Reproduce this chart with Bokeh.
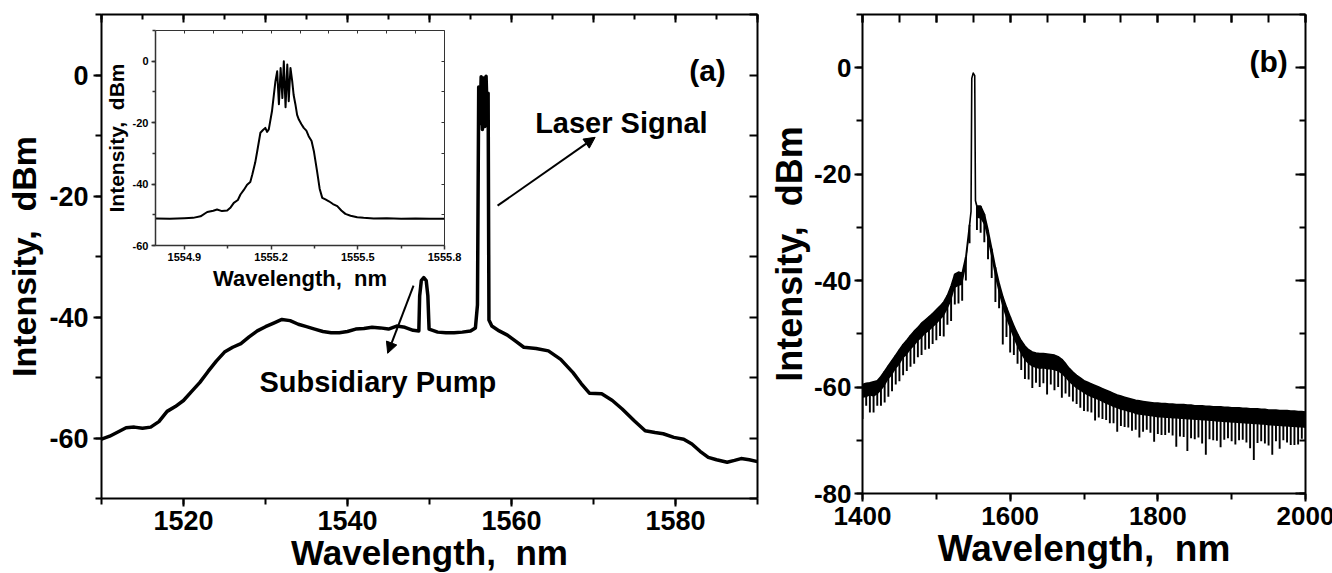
from bokeh.plotting import figure
from bokeh.layouts import row
from bokeh.models import (Range1d, LinearAxis, FixedTicker, SingleIntervalTicker,
                          PrintfTickFormatter, Arrow, NormalHead, Label)
from bokeh.embed import file_html
from bokeh.resources import INLINE

# ---------------- data : panel (a) main spectrum ----------------
a_nm = [1510, 1511, 1512, 1513, 1514, 1515, 1516, 1517, 1518, 1519,
        1520, 1521, 1522, 1523, 1524, 1525, 1526, 1527, 1528, 1529,
        1530, 1531, 1532, 1533, 1534, 1535, 1536, 1537, 1538, 1539,
        1540, 1541, 1542, 1543, 1544, 1545, 1546, 1547, 1548,
        1548.7, 1548.8, 1549.0, 1549.3, 1549.6, 1549.8, 1549.95,
        1551, 1552, 1553, 1554, 1555,
        1555.6, 1555.85, 1556.0, 1556.15, 1556.3, 1556.45, 1556.6, 1556.75,
        1556.9, 1557.05, 1557.15, 1557.25, 1557.6,
        1558.5, 1559.5, 1560.5, 1561.5, 1563, 1564.5, 1566, 1567.5, 1568.5,
        1569.5, 1571, 1572.3, 1573.5, 1575, 1576.3, 1577.5, 1578.5, 1579.8,
        1581, 1582, 1583, 1584, 1585, 1586.3, 1587.2, 1588, 1589, 1590]
a_db = [-60.2, -59.7, -59.0, -58.3, -58.2, -58.4, -58.2, -57.3, -55.6, -54.8,
        -53.8, -52.3, -50.8, -49.0, -47.3, -45.8, -45.0, -44.4, -43.3, -42.3,
        -41.6, -41.0, -40.4, -40.6, -41.2, -41.6, -42.0, -42.4, -42.6, -42.6,
        -42.4, -42.0, -41.9, -41.7, -41.8, -42.0, -41.5, -41.7, -42.2,
        -42.3, -36.5, -34.0, -33.5, -34.0, -36.5, -42.0,
        -42.5, -42.6, -42.6, -42.5, -42.3,
        -41.8, -38.0, -2.0, -8.0, -0.3, -9.0, -0.5, -8.5,
        -0.2, -7.0, -3.0, -40.5, -41.5,
        -42.3, -43.0, -44.0, -45.0, -45.2, -45.6, -47.0, -49.2, -51.0,
        -52.6, -52.7, -53.8, -55.2, -57.2, -58.8, -59.1, -59.3, -59.9,
        -60.2, -61.0, -62.2, -63.2, -63.6, -64.0, -63.7, -63.4, -63.6, -63.9]

# ---------------- data : inset of panel (a) ----------------
in_nm = [1554.80, 1554.85, 1554.90, 1554.93, 1554.956, 1554.979, 1555.00, 1555.013,
         1555.03, 1555.048, 1555.06, 1555.071, 1555.085, 1555.094, 1555.105, 1555.117,
         1555.128, 1555.135, 1555.145, 1555.152, 1555.163, 1555.172, 1555.18, 1555.186,
         1555.192, 1555.203, 1555.215, 1555.221, 1555.227, 1555.233, 1555.239, 1555.244,
         1555.25, 1555.256, 1555.261, 1555.267, 1555.273, 1555.278, 1555.284, 1555.29,
         1555.296, 1555.305, 1555.313, 1555.322, 1555.33, 1555.34, 1555.348, 1555.359,
         1555.368, 1555.377, 1555.388, 1555.4, 1555.414, 1555.429, 1555.443, 1555.457,
         1555.475, 1555.498, 1555.52, 1555.555, 1555.6, 1555.65, 1555.7, 1555.75, 1555.8]
in_db = [-51.2, -51.3, -51.1, -51.0, -50.5, -49.1, -48.7, -48.3,
         -48.8, -48.6, -47.6, -46.1, -45.2, -43.4, -42.0, -40.2,
         -39.3, -36.9, -33.0, -29.3, -23.3, -22.4, -21.7, -23.0,
         -22.2, -16.3, -6.5, -3.3, -14.0, -2.2, -12.0, 0.0,
         -15.0, -1.1, -13.0, -2.2, -6.5, -11.0, -14.0, -17.5,
         -19.0, -20.5, -21.7, -22.6, -24.4, -26.0, -29.3, -35.8,
         -41.5, -44.5, -45.0, -45.6, -46.5, -47.2, -48.6, -49.7,
         -50.3, -50.8, -51.0, -51.2, -51.1, -51.3, -51.2, -51.3, -51.3]

# ---------------- data : panel (b) ----------------
b_nm = [1400, 1405, 1410, 1415, 1420, 1425, 1430, 1435, 1440, 1445,
        1450, 1455, 1460, 1465, 1470, 1475, 1480, 1485, 1490, 1495,
        1500, 1505, 1510, 1515, 1520, 1525, 1530, 1535, 1540, 1545,
        1547, 1548, 1550, 1552, 1553,
        1555, 1560, 1565, 1570, 1575, 1580, 1585, 1590, 1595,
        1600, 1605, 1610, 1615, 1620, 1625, 1630, 1635, 1640, 1645,
        1650, 1655, 1660, 1665, 1670, 1675, 1680, 1685, 1690, 1695,
        1700, 1705, 1710, 1715, 1720, 1725, 1730, 1735, 1740, 1745,
        1750, 1755, 1760, 1765, 1770, 1775, 1780, 1785, 1790, 1795,
        1800, 1805, 1810, 1815, 1820, 1825, 1830, 1835, 1840, 1845,
        1850, 1855, 1860, 1865, 1870, 1875, 1880, 1885, 1890, 1895,
        1900, 1905, 1910, 1915, 1920, 1925, 1930, 1935, 1940, 1945,
        1950, 1955, 1960, 1965, 1970, 1975, 1980, 1985, 1990, 1995, 2000]
# upper edge of the trace
b_top = [-59.5, -59.3, -59.2, -59.0, -58.8, -58.0, -57.0, -56.0, -55.0, -54.0,
         -53.0, -52.0, -51.2, -50.3, -49.5, -48.8, -48.0, -47.4, -46.8, -46.2,
         -45.5, -44.8, -44.0, -42.8, -41.0, -38.8, -38.4, -38.6, -35.5, -29.5,
         -27.0, -2.0, -1.0, -1.5, -25.0,
         -26.0, -26.0, -27.5, -30.5, -34.0, -37.5, -40.5, -43.0, -45.0,
         -46.8, -48.5, -50.0, -51.3, -52.3, -53.0, -53.4, -53.6, -53.7, -53.7,
         -53.8, -53.9, -54.0, -54.3, -54.8, -55.6, -56.5, -57.2, -57.8, -58.3,
         -58.8, -59.1, -59.4, -59.7, -60.0, -60.3, -60.6, -60.9, -61.2, -61.5,
         -61.7, -61.9, -62.1, -62.3, -62.5, -62.6, -62.7, -62.8, -62.9, -63.0,
         -63.0, -63.1, -63.1, -63.2, -63.2, -63.3, -63.3, -63.3, -63.4, -63.4,
         -63.5, -63.5, -63.5, -63.6, -63.6, -63.7, -63.7, -63.7, -63.8, -63.8,
         -63.9, -63.9, -63.9, -64.0, -64.0, -64.1, -64.1, -64.1, -64.2, -64.2,
         -64.3, -64.3, -64.3, -64.4, -64.4, -64.4, -64.5, -64.5, -64.6, -64.6, -64.7]
# lower edge of the dense noise band
b_band = [-62.0, -61.9, -61.6, -61.8, -61.4, -60.7, -59.8, -58.6, -57.8, -56.6,
          -55.8, -54.6, -54.0, -53.0, -52.3, -51.4, -50.8, -50.0, -49.5, -48.8,
          -48.2, -47.4, -46.7, -45.4, -43.9, -41.4, -41.0, -40.8, -37.5, -31.2,
          -27.0, -2.0, -1.0, -1.5, -25.0,
          -28.2, -28.4, -29.6, -32.7, -36.0, -39.6, -42.6, -45.2, -47.3,
          -49.2, -51.0, -52.6, -53.9, -55.0, -55.7, -56.2, -56.4, -56.6, -56.5,
          -56.7, -56.7, -56.9, -57.1, -57.6, -58.3, -59.1, -59.7, -60.3, -60.7,
          -61.2, -61.6, -61.9, -62.2, -62.5, -62.8, -63.2, -63.4, -63.8, -64.0,
          -64.3, -64.4, -64.7, -64.8, -65.1, -65.2, -65.3, -65.4, -65.5, -65.6,
          -65.7, -65.7, -65.8, -65.8, -65.9, -65.9, -66.0, -66.0, -66.1, -66.1,
          -66.2, -66.2, -66.3, -66.3, -66.4, -66.4, -66.5, -66.5, -66.6, -66.6,
          -66.7, -66.7, -66.8, -66.8, -66.9, -66.9, -67.0, -67.0, -67.1, -67.1,
          -67.2, -67.2, -67.3, -67.3, -67.4, -67.4, -67.5, -67.5, -67.6, -67.6, -67.7]
# depth reached by the downward spikes
b_low = [-66.0, -63.5, -64.8, -64.8, -63.5, -63.5, -62.9, -61.8, -60.8, -59.5,
         -58.9, -57.8, -57.0, -56.2, -55.6, -54.4, -54.0, -53.0, -52.8, -51.9,
         -51.2, -50.4, -50.5, -48.3, -47.6, -44.5, -44.3, -43.8, -40.0, -33.0,
         -27.0, -2.0, -1.0, -1.5, -25.0,
         -30.5, -31.0, -32.8, -36.0, -39.5, -44.0, -45.2, -52.0, -50.6,
         -53.5, -54.0, -55.6, -56.8, -58.5, -58.6, -60.2, -59.2, -60.0, -59.3,
         -61.4, -59.5, -60.6, -60.0, -62.0, -61.2, -61.8, -62.7, -63.2, -63.9,
         -64.5, -64.6, -64.8, -66.3, -65.7, -66.0, -66.2, -66.8, -66.8, -68.4,
         -67.3, -67.5, -67.6, -68.2, -68.0, -69.5, -68.4, -68.0, -68.6, -70.3,
         -68.8, -69.0, -69.0, -68.6, -69.1, -71.2, -69.3, -69.4, -72.0, -69.6,
         -69.8, -69.5, -70.6, -72.7, -69.8, -70.0, -70.1, -71.3, -69.9, -69.6,
         -70.2, -70.8, -70.0, -69.9, -70.4, -71.5, -73.7, -70.5, -70.2, -70.6,
         -71.0, -72.7, -70.2, -71.6, -70.0, -70.4, -70.9, -70.9, -70.8, -69.7, -69.9]

FONT = "Liberation Sans"


def style_axis(ax, font=FONT, tick_px="25px", inward=False, labels=True,
               major_len=8, minor_len=6, lw=2, color="black"):
    ax.axis_line_width = lw
    ax.axis_line_color = color
    ax.major_tick_line_width = lw
    ax.minor_tick_line_width = lw
    ax.major_tick_line_color = color
    ax.minor_tick_line_color = color
    if inward:
        ax.major_tick_out, ax.major_tick_in = 0, major_len
        ax.minor_tick_out, ax.minor_tick_in = 0, minor_len
    else:
        ax.major_tick_out, ax.major_tick_in = major_len, 0
        ax.minor_tick_out, ax.minor_tick_in = minor_len, 0
    ax.major_label_text_font = font
    ax.major_label_text_font_style = "bold"
    if labels:
        ax.major_label_text_font_size = tick_px
        ax.major_label_text_color = "black"
    else:
        # tick marks only: the labels are not drawn at all
        ax.major_label_text_font_size = "0px"
        ax.major_label_text_color = None
        ax.major_label_standoff = 0
    ax.axis_label_text_font = font
    ax.axis_label_text_font_style = "bold"
    ax.axis_label_text_color = "black"


NB = "\u00a0"

# ======================= panel (a) =======================
FW_A, FH_A = 656, 484
pa = figure(frame_width=FW_A, frame_height=FH_A,
            x_range=Range1d(1510, 1590), y_range=Range1d(-70, 10),
            output_backend="svg", toolbar_location=None,
            min_border_left=101, min_border_right=8, min_border_top=14, min_border_bottom=74)
pa.grid.visible = False
pa.outline_line_color = None

xa = pa.xaxis[0]
xa.ticker = SingleIntervalTicker(interval=20, num_minor_ticks=2)
xa.formatter = PrintfTickFormatter(format="%d")
style_axis(xa, tick_px="27px")
xa.axis_label = "Wavelength," + NB + " nm"
xa.axis_label_text_font_size = "35px"
xa.axis_label_standoff = 0
xa.major_label_standoff = 4

ya = pa.yaxis[0]
ya.ticker = SingleIntervalTicker(interval=20, num_minor_ticks=2)
ya.formatter = PrintfTickFormatter(format="%d")
style_axis(ya, tick_px="27px")
ya.axis_label = "Intensity," + NB + " dBm"
ya.axis_label_text_font_size = "34px"
ya.axis_label_standoff = 3
ya.major_label_standoff = 5

ta = LinearAxis(ticker=SingleIntervalTicker(interval=10, num_minor_ticks=2))
style_axis(ta, inward=True, labels=False, major_len=8, minor_len=5)
pa.add_layout(ta, "above")
ra = LinearAxis(ticker=SingleIntervalTicker(interval=10, num_minor_ticks=0))
style_axis(ra, inward=True, labels=False, major_len=8, minor_len=0)
pa.add_layout(ra, "right")

pa.line(a_nm, a_db, line_color="black", line_width=3.5, line_join="round")

# --- inset, drawn in the same frame through its own ranges and axes ---
IN_X = (1554.8, 1555.8)
IN_Y = (-60, 10)
IN_L, IN_R, IN_B, IN_T = 54, 343, 253, 468   # inset box, px from frame left / bottom
sx = (IN_R - IN_L) / (IN_X[1] - IN_X[0])
sy = (IN_T - IN_B) / (IN_Y[1] - IN_Y[0])
ix0 = IN_X[0] - IN_L / sx
iy0 = IN_Y[0] - IN_B / sy
pa.extra_x_ranges = {"ix": Range1d(ix0, ix0 + FW_A / sx)}
pa.extra_y_ranges = {"iy": Range1d(iy0, iy0 + FH_A / sy)}

pa.line(in_nm, in_db, x_range_name="ix", y_range_name="iy",
        line_color="black", line_width=2.0, line_join="round")

GREY = "#333333"
ib = LinearAxis(x_range_name="ix", y_range_name="iy", fixed_location=IN_Y[0], bounds=IN_X,
                ticker=FixedTicker(ticks=[1554.9, 1555.2, 1555.5, 1555.8],
                                   minor_ticks=[1555.05, 1555.35, 1555.65]),
                formatter=PrintfTickFormatter(format="%.1f"))
style_axis(ib, tick_px="11px", major_len=4, minor_len=3, lw=1.5, color=GREY)
ib.axis_label = "Wavelength," + NB + " nm"
ib.axis_label_text_font_size = "22px"
ib.axis_label_standoff = 2
ib.major_label_standoff = 3
pa.add_layout(ib, "below")

il = LinearAxis(x_range_name="ix", y_range_name="iy", fixed_location=IN_X[0], bounds=IN_Y,
                ticker=SingleIntervalTicker(interval=20, num_minor_ticks=2),
                formatter=PrintfTickFormatter(format="%d"))
style_axis(il, tick_px="11px", major_len=4, minor_len=3, lw=1.5, color=GREY)
il.axis_label = "Intensity," + NB + " dBm"
il.axis_label_text_font_size = "21px"
il.axis_label_standoff = 2
il.major_label_standoff = 3
pa.add_layout(il, "left")

it = LinearAxis(x_range_name="ix", y_range_name="iy", fixed_location=IN_Y[1], bounds=IN_X,
                ticker=FixedTicker(ticks=[1554.9, 1555.0, 1555.1, 1555.2, 1555.3,
                                          1555.4, 1555.5, 1555.6, 1555.7]))
style_axis(it, inward=True, labels=False, major_len=3, minor_len=0, lw=1, color=GREY)
pa.add_layout(it, "above")

ir = LinearAxis(x_range_name="ix", y_range_name="iy", fixed_location=IN_X[1], bounds=IN_Y,
                ticker=SingleIntervalTicker(interval=10, num_minor_ticks=0))
style_axis(ir, inward=True, labels=False, major_len=3, minor_len=0, lw=1, color=GREY)
pa.add_layout(ir, "right")

# --- annotations of (a) ---
pa.add_layout(Label(x=1583.9, y=0.8, text="(a)", text_font=FONT, text_font_style="bold",
                    text_font_size="30px", text_align="center", text_baseline="alphabetic",
                    text_color="black"))
pa.add_layout(Label(x=1573.4, y=-7.9, text="Laser Signal", text_font=FONT,
                    text_font_style="bold", text_font_size="29px", text_align="center",
                    text_baseline="alphabetic", text_color="black"))
pa.add_layout(Label(x=1543.7, y=-50.8, text="Subsidiary Pump", text_font=FONT,
                    text_font_style="bold", text_font_size="29px", text_align="center",
                    text_baseline="alphabetic", text_color="black"))
pa.add_layout(Arrow(end=NormalHead(size=11, fill_color="black", line_color="black"),
                    x_start=1558.3, y_start=-21.6, x_end=1570.2, y_end=-10.3,
                    line_color="black", line_width=2))
pa.add_layout(Arrow(end=NormalHead(size=11, fill_color="black", line_color="black"),
                    x_start=1548.05, y_start=-34.8, x_end=1544.9, y_end=-46.0,
                    line_color="black", line_width=2))

# ======================= panel (b) =======================
FW_B, FH_B = 443, 479
pb = figure(frame_width=FW_B, frame_height=FH_B,
            x_range=Range1d(1400, 2000), y_range=Range1d(-80, 10),
            output_backend="svg", toolbar_location=None,
            min_border_left=94, min_border_right=29, min_border_top=13, min_border_bottom=80)
pb.grid.visible = False
pb.outline_line_color = None

xb = pb.xaxis[0]
xb.ticker = SingleIntervalTicker(interval=200, num_minor_ticks=2)
xb.formatter = PrintfTickFormatter(format="%d")
style_axis(xb, tick_px="26px")
xb.axis_label = "Wavelength," + NB + " nm"
xb.axis_label_text_font_size = "37px"
xb.axis_label_standoff = 0
xb.major_label_standoff = 5

yb = pb.yaxis[0]
yb.ticker = SingleIntervalTicker(interval=20, num_minor_ticks=2)
yb.formatter = PrintfTickFormatter(format="%d")
style_axis(yb, tick_px="26px")
yb.axis_label = "Intensity," + NB + " dBm"
yb.axis_label_text_font_size = "36px"
yb.axis_label_standoff = 1
yb.major_label_standoff = 3

tb = LinearAxis(ticker=SingleIntervalTicker(interval=100, num_minor_ticks=2))
style_axis(tb, inward=True, labels=False, major_len=8, minor_len=8)
pb.add_layout(tb, "above")
rb = LinearAxis(ticker=SingleIntervalTicker(interval=20, num_minor_ticks=2))
style_axis(rb, inward=True, labels=False, major_len=10, minor_len=6)
pb.add_layout(rb, "right")

pb.varea(x=b_nm, y1=b_band, y2=b_top, fill_color="black")
pb.vbar(x=b_nm, top=b_top, bottom=b_low, width=2.6, fill_color="black", line_color=None)
pb.line(b_nm, b_top, line_color="black", line_width=1.6, line_join="round")

pb.add_layout(Label(x=1950, y=1.2, text="(b)", text_font=FONT, text_font_style="bold",
                    text_font_size="30px", text_align="center", text_baseline="alphabetic",
                    text_color="black"))

layout = row(pa, pb)
open("out.html", "w").write(file_html(layout, INLINE))
